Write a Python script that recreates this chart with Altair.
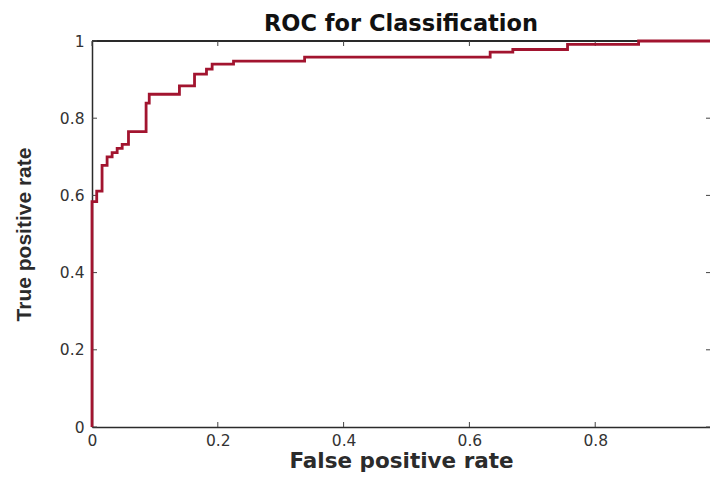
import altair as alt
import pandas as pd

fpr = [0, 0, 0.0075, 0.016, 0.024, 0.032, 0.040, 0.048, 0.058, 0.086, 0.091,
       0.139, 0.163, 0.182, 0.191, 0.225, 0.338, 0.633, 0.669, 0.756, 0.869, 1.0]
tpr = [0, 0.584, 0.611, 0.678, 0.700, 0.711, 0.722, 0.732, 0.765, 0.839, 0.862,
       0.884, 0.914, 0.927, 0.940, 0.948, 0.958, 0.971, 0.978, 0.991, 1.0, 1.0]
ticks = [0, 0.2, 0.4, 0.6, 0.8, 1]

W, H = 618, 386
XMAX = 0.9825  # the reference view is cropped just before x = 1
FONT = "DejaVu Sans"
DARK = "#2b2b2b"

df = pd.DataFrame({"fpr": fpr, "tpr": tpr})
tick_df = pd.DataFrame({"t": ticks})

xs = alt.Scale(domain=[0, XMAX], nice=False, zero=False)
ys = alt.Scale(domain=[0, 1], nice=False, zero=False)

lab = "datum.value == 0 ? '0' : datum.value == 1 ? '1' : format(datum.value, '.1f')"
xa = alt.Axis(
    title="False positive rate", values=ticks, ticks=False, domain=True, domainColor=DARK,
    domainWidth=1.5, grid=False,
    labelFont=FONT, labelFontSize=15.5, labelColor="#333333", labelPadding=6,
    labelExpr=lab, labelOverlap=False, labelFlush=False,
    titleFont=FONT, titleFontSize=21.5, titleFontWeight="bold", titleColor=DARK, titlePadding=2)
ya = alt.Axis(
    title="True positive rate", values=ticks, ticks=False, domain=True, domainColor=DARK,
    domainWidth=1.5, grid=False,
    labelFont=FONT, labelFontSize=15.5, labelColor="#333333", labelPadding=8,
    labelExpr=lab, labelOverlap=False, labelFlush=False,
    titleFont="Liberation Sans", titleFontSize=21, titleFontWeight="bold", titleColor=DARK,
    titlePadding=25)

line = alt.Chart(df).mark_line(
    color="#A2142F", strokeWidth=2.8, interpolate="step-after"
).encode(
    x=alt.X("fpr:Q", scale=xs, axis=xa),
    y=alt.Y("tpr:Q", scale=ys, axis=ya),
)

tick_color = "#444444"
xb = alt.Chart(tick_df).mark_rule(color=tick_color, strokeWidth=1).encode(
    x=alt.X("t:Q", scale=xs, axis=xa), y=alt.value(H), y2=alt.value(H - 5))
xt = alt.Chart(tick_df).mark_rule(color=tick_color, strokeWidth=1).encode(
    x=alt.X("t:Q", scale=xs, axis=xa), y=alt.value(0), y2=alt.value(5))
yl = alt.Chart(tick_df).mark_rule(color=tick_color, strokeWidth=1).encode(
    y=alt.Y("t:Q", scale=ys, axis=ya), x=alt.value(0), x2=alt.value(5))
yr = alt.Chart(tick_df).mark_rule(color=tick_color, strokeWidth=1).encode(
    y=alt.Y("t:Q", scale=ys, axis=ya), x=alt.value(W - 4), x2=alt.value(W))
top = alt.Chart(tick_df).mark_rule(color=DARK, strokeWidth=1.5).encode(
    y=alt.value(0), x=alt.value(0), x2=alt.value(W))

chart = alt.layer(top, xb, xt, yl, yr, line).properties(
    width=W, height=H,
    title=alt.TitleParams("ROC for Classification", font=FONT, fontSize=22.5,
                          fontWeight="bold", color="#111111", offset=-1),
    autosize=alt.AutoSizeParams(type="none"),
    padding={"left": 84, "top": 33, "right": 0, "bottom": 46},
).configure_view(strokeWidth=0).configure(background="white")

chart.save("out.html", embed_options={"renderer": "svg", "actions": False})
